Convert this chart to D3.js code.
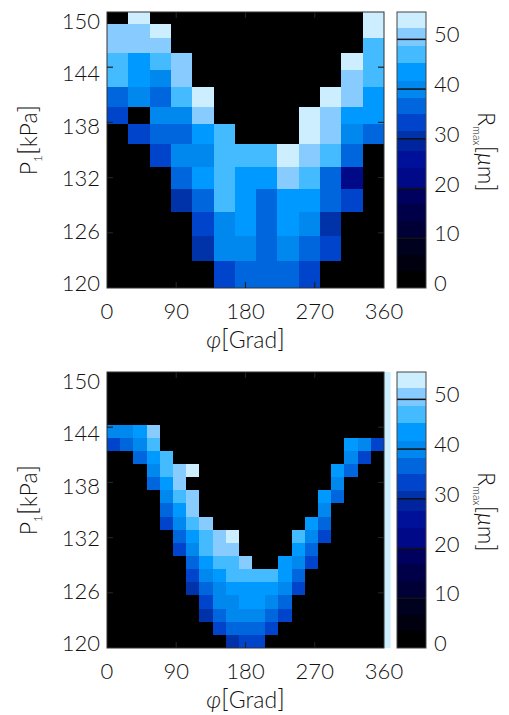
<!DOCTYPE html>
<html lang="en">
<head>
<meta charset="utf-8">
<title>R_max over phi and P1</title>
<script src="https://cdnjs.cloudflare.com/ajax/libs/d3/7.8.5/d3.min.js"></script>
<style>
  body { margin: 0; background: #fff; }
  text { font-family: Lato, "DejaVu Sans", sans-serif; font-weight: 300; fill: #111; }
</style>
</head>
<body>
<script>
// axis ticks
const phiTicks = [0, 90, 180, 270, 360];
const pTicks = [150, 144, 138, 132, 126, 120];
const rTicks = [0, 10, 20, 30, 40, 50];
const rTop = 55.5;

// colour bands of the bar: upper bound of each band (um) and the band colours
const rBreaks = [3.4, 6.7, 10.1, 13.4, 16.8, 20.1, 24.2, 27.6, 29.9, 31.6, 34.9, 38.3, 41.7, 45.3, 48.7, 50, 52.2];
const rColors = ["#000000", "#00000f", "#00001f", "#000036", "#000048", "#00005e", "#000a88", "#001199",
                 "#00249d", "#0033aa", "#0044cc", "#0066dd", "#0088ee", "#0099ff", "#44bbff", "#7cc8ff",
                 "#88ccff", "#cceeff"];

// upper panel: 13 phi columns, 14 pressure rows (row edges in kPa, top to bottom)
const topRowEdges = [150, 148.7, 147.2, 145.5, 143.7, 141.8, 139.7, 137.8, 135.6, 133.2, 130.8, 128.3, 125.6, 122.9, 120];
const topRmax = [
  [0, 54, 0, 0, 0, 0, 0, 0, 0, 0, 0, 0, 54],
  [51.5, 51.5, 54, 0, 0, 0, 0, 0, 0, 0, 0, 0, 54],
  [51.5, 51.5, 51.5, 0, 0, 0, 0, 0, 0, 0, 0, 0, 47],
  [47, 43.5, 47, 51.5, 0, 0, 0, 0, 0, 0, 0, 54, 47],
  [47, 43.5, 40, 51.5, 0, 0, 0, 0, 0, 0, 0, 51.5, 47],
  [36.5, 40, 36.5, 47, 54, 0, 0, 0, 0, 0, 54, 51.5, 43.5],
  [33, 0, 40, 40, 51.5, 0, 0, 0, 0, 54, 51.5, 43.5, 43.5],
  [0, 33, 36.5, 36.5, 43.5, 47, 0, 0, 0, 54, 51.5, 40, 36.5],
  [0, 0, 33, 40, 40, 47, 47, 47, 54, 51.5, 47, 36.5, 0],
  [0, 0, 0, 36.5, 43.5, 47, 43.5, 43.5, 51.5, 47, 36.5, 22, 0],
  [0, 0, 0, 30.5, 36.5, 47, 43.5, 36.5, 43.5, 43.5, 36.5, 33, 0],
  [0, 0, 0, 0, 33, 40, 43.5, 36.5, 43.5, 40, 30.5, 0, 0],
  [0, 0, 0, 0, 30.5, 40, 40, 36.5, 40, 36.5, 33, 0, 0],
  [0, 0, 0, 0, 0, 33, 36.5, 36.5, 36.5, 33, 0, 0, 0]
];

// lower panel: 21 x 21 grid, plus a 22nd column just past 360 deg
const botRmax = [
  [0,0,0,0,0,0,0,0,0,0,0,0,0,0,0,0,0,0,0,0,0,54],
  [0,0,0,0,0,0,0,0,0,0,0,0,0,0,0,0,0,0,0,0,0,54],
  [0,0,0,0,0,0,0,0,0,0,0,0,0,0,0,0,0,0,0,0,0,54],
  [0,0,0,0,0,0,0,0,0,0,0,0,0,0,0,0,0,0,0,0,0,54],
  [40,40,43.5,51.5,0,0,0,0,0,0,0,0,0,0,0,0,0,0,0,0,0,54],
  [33,36.5,40,47,0,0,0,0,0,0,0,0,0,0,0,0,0,0,43.5,40,33,54],
  [0,0,36.5,43.5,47,0,0,0,0,0,0,0,0,0,0,0,0,0,40,33,0,54],
  [0,0,0,40,47,51.5,54,0,0,0,0,0,0,0,0,0,0,43.5,36.5,0,0,54],
  [0,0,0,36.5,43.5,51.5,0,0,0,0,0,0,0,0,0,0,0,40,0,0,0,54],
  [0,0,0,0,40,47,51.5,0,0,0,0,0,0,0,0,0,43.5,36.5,0,0,0,54],
  [0,0,0,0,36.5,43.5,51.5,0,0,0,0,0,0,0,0,0,40,0,0,0,0,54],
  [0,0,0,0,33,40,47,51.5,0,0,0,0,0,0,0,43.5,36.5,0,0,0,0,54],
  [0,0,0,0,0,36.5,43.5,47,51.5,54,0,0,0,0,47,40,33,0,0,0,0,54],
  [0,0,0,0,0,33,40,47,51.5,51.5,0,0,0,0,43.5,36.5,0,0,0,0,0,54],
  [0,0,0,0,0,0,36.5,43.5,47,47,51.5,0,0,43.5,40,33,0,0,0,0,0,54],
  [0,0,0,0,0,0,33,40,43.5,47,47,47,47,43.5,36.5,0,0,0,0,0,0,54],
  [0,0,0,0,0,0,30.5,36.5,40,43.5,43.5,43.5,43.5,40,33,0,0,0,0,0,0,54],
  [0,0,0,0,0,0,0,33,40,40,43.5,43.5,40,36.5,0,0,0,0,0,0,0,54],
  [0,0,0,0,0,0,0,30.5,36.5,40,40,40,36.5,33,0,0,0,0,0,0,0,54],
  [0,0,0,0,0,0,0,0,33,36.5,36.5,36.5,33,0,0,0,0,0,0,0,0,54],
  [0,0,0,0,0,0,0,0,0,30.5,33,33,0,0,0,0,0,0,0,0,0,54]
];

const W = 509, H = 715;
const left = 107, plotW = 277, plotH = 276;
const cbX = 397, cbW = 29;

const svg = d3.select("body").append("svg").attr("width", W).attr("height", H);
const color = d3.scaleThreshold().domain(rBreaks).range(rColors);
const x = d3.scaleLinear().domain([0, 360]).range([left, left + plotW]);

// column edges: upper panel 13 equal columns, lower panel 21 columns + half column past 360
const topColEdges = d3.range(14).map(i => i * 360 / 13);
const botColEdges = d3.range(23).map(i => i * 360 / 21);
const botRowEdges = d3.range(22).map(i => 150 - i * 30 / 21);

function drawPanel(top, rowEdges, colEdges, values, clipPhi) {
  const y = d3.scaleLinear().domain([120, 150]).range([top + plotH, top]);
  const yl = d3.scaleLinear().domain([120, 150]).range([top + plotH - 5, top + 9]);
  const g = svg.append("g");
  const clipId = "clip" + top;
  svg.append("clipPath").attr("id", clipId).append("rect")
    .attr("x", x(0)).attr("y", y(150))
    .attr("width", x(clipPhi) - x(0)).attr("height", plotH);

  const cells = [];
  values.forEach((row, r) => row.forEach((v, c) => cells.push({ r, c, v })));
  g.append("g").attr("clip-path", `url(#${clipId})`)
    .selectAll("rect").data(cells).join("rect")
    .attr("shape-rendering", "crispEdges")
    .attr("x", d => x(colEdges[d.c]))
    .attr("y", d => y(rowEdges[d.r]))
    .attr("width", d => x(colEdges[d.c + 1]) - x(colEdges[d.c]))
    .attr("height", d => y(rowEdges[d.r + 1]) - y(rowEdges[d.r]))
    .attr("fill", d => color(d.v));

  // frame and inner ticks
  g.append("rect")
    .attr("x", x(0)).attr("y", y(150))
    .attr("width", x(360) - x(0)).attr("height", plotH)
    .attr("fill", "none").attr("stroke", "#333");
  const tk = g.append("g").attr("stroke", "#222").attr("stroke-width", 1.2);
  phiTicks.slice(1, -1).forEach(v => {
    tk.append("line").attr("x1", x(v)).attr("x2", x(v)).attr("y1", y(120)).attr("y2", y(120) - 6);
    tk.append("line").attr("x1", x(v)).attr("x2", x(v)).attr("y1", y(150)).attr("y2", y(150) + 6);
  });
  pTicks.slice(1, -1).forEach(v => {
    tk.append("line").attr("x1", x(0)).attr("x2", x(0) + 6).attr("y1", y(v)).attr("y2", y(v));
    tk.append("line").attr("x1", x(360)).attr("x2", x(360) - 6).attr("y1", y(v)).attr("y2", y(v));
  });

  // tick labels
  g.selectAll(".xl").data(phiTicks).join("text")
    .attr("x", d => x(d)).attr("y", top + plotH + 31)
    .attr("text-anchor", "middle").attr("font-size", 22).text(d => d);
  g.selectAll(".yl").data(pTicks).join("text")
    .attr("x", 100).attr("y", d => yl(d) + 8)
    .attr("text-anchor", "end").attr("font-size", 22).text(d => d);

  // axis titles
  const yt = g.append("text")
    .attr("transform", `translate(37,${top + 128}) rotate(-90)`)
    .attr("text-anchor", "middle").attr("font-size", 23);
  yt.append("tspan").text("P");
  yt.append("tspan").attr("font-size", 12).attr("dy", 5).text("1");
  yt.append("tspan").attr("dy", -5).attr("font-size", 26).text("[");
  yt.append("tspan").text("kPa");
  yt.append("tspan").attr("font-size", 26).text("]");

  const xt = g.append("text")
    .attr("x", x(180)).attr("y", top + plotH + 60)
    .attr("text-anchor", "middle").attr("font-size", 23);
  xt.append("tspan").attr("font-style", "italic").text("\u03c6");
  xt.append("tspan").attr("font-size", 26).text("[");
  xt.append("tspan").text("Grad");
  xt.append("tspan").attr("font-size", 26).text("]");

  // colour bar
  const yc = d3.scaleLinear().domain([0, rTop]).range([top + plotH, top]);
  const bands = rColors.map(c => {
    const [a, b] = color.invertExtent(c);
    return { c, a: a === undefined ? 0 : a, b: b === undefined ? rTop : b };
  });
  g.append("g").selectAll("rect").data(bands).join("rect")
    .attr("shape-rendering", "crispEdges")
    .attr("x", cbX).attr("width", cbW)
    .attr("y", d => yc(d.b)).attr("height", d => yc(d.a) - yc(d.b))
    .attr("fill", d => d.c);
  g.append("g").selectAll("line").data(rTicks.slice(1)).join("line")
    .attr("x1", cbX).attr("x2", cbX + cbW)
    .attr("y1", d => yc(d)).attr("y2", d => yc(d))
    .attr("stroke", "#111").attr("stroke-width", 1.5);
  g.append("rect")
    .attr("x", cbX).attr("y", top).attr("width", cbW).attr("height", plotH)
    .attr("fill", "none").attr("stroke", "#444");
  g.selectAll(".cl").data(rTicks).join("text")
    .attr("x", 434).attr("y", d => Math.min(yc(d) + 3, top + plotH + 3))
    .attr("font-size", 22).text(d => d);

  const ct = g.append("text")
    .attr("transform", `translate(478,${top + 140}) rotate(90)`)
    .attr("text-anchor", "middle").attr("font-size", 23);
  ct.append("tspan").text("R");
  ct.append("tspan").attr("font-size", 11).attr("dy", 5).text("max");
  ct.append("tspan").attr("dy", -5).attr("font-size", 26).text("[");
  ct.append("tspan").attr("font-style", "italic").text("\u03bc");
  ct.append("tspan").text("m");
  ct.append("tspan").attr("font-size", 26).text("]");
}

drawPanel(12, topRowEdges, topColEdges, topRmax, 360);
drawPanel(372, botRowEdges, botColEdges, botRmax, 360 + 180 / 21);
</script>
</body>
</html>
